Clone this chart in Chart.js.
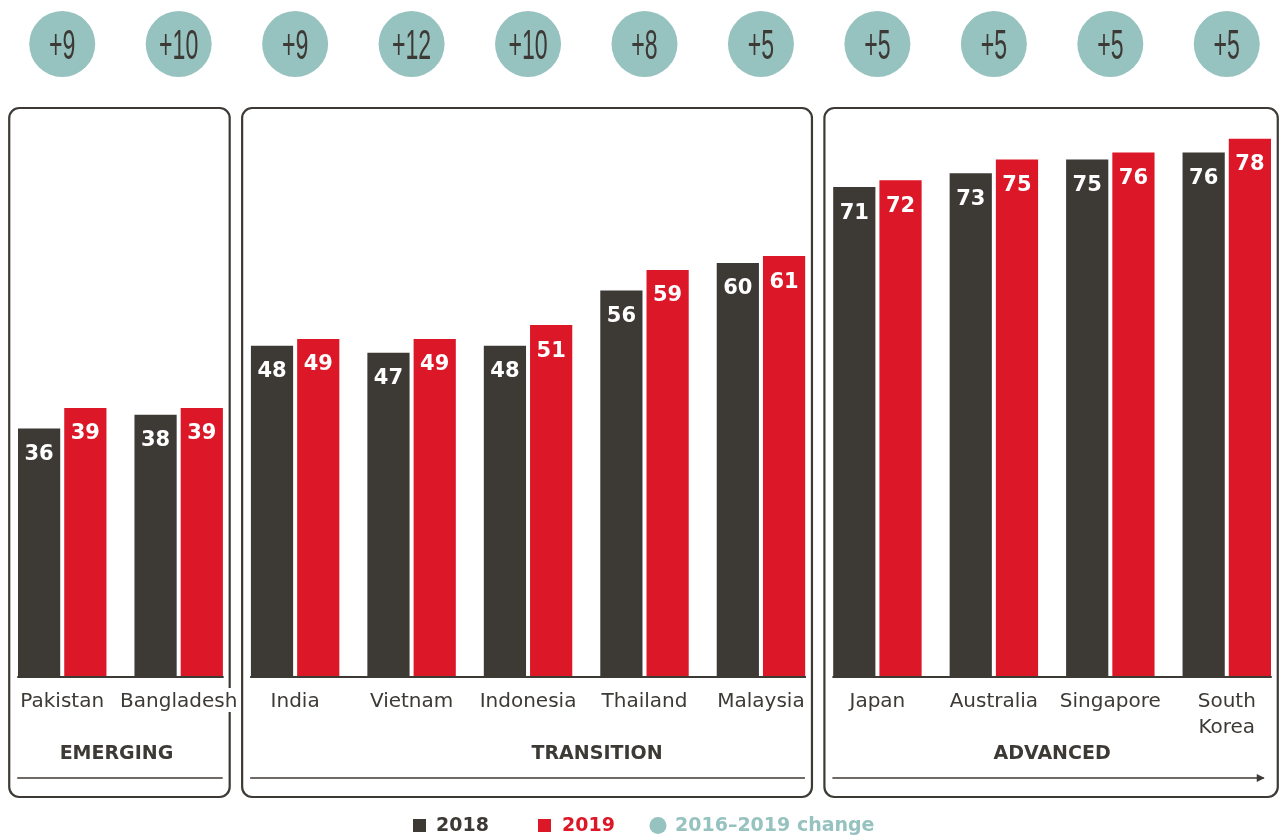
<!DOCTYPE html>
<html>
<head>
<meta charset="utf-8">
<script src="https://cdn.jsdelivr.net/npm/chart.js@4"></script>
<style>
html,body{margin:0;padding:0;background:#fff;overflow:hidden}
#wrap{width:1285px;height:836px;position:relative}
</style>
</head>
<body>
<div id="wrap"><canvas id="myChart"></canvas></div>
<script>
// data
const countries = ['Pakistan','Bangladesh','India','Vietnam','Indonesia','Thailand','Malaysia','Japan','Australia','Singapore',['South','Korea']];
const scores2018 = [36,38,48,47,48,56,60,71,73,75,76];
const scores2019 = [39,39,49,49,51,59,61,72,75,76,78];
const change = [9,10,9,12,10,8,5,5,5,5,5];
const groupNames = ['EMERGING','TRANSITION','ADVANCED'];
const groupFirst = [0,2,7];
const groupLast = [1,6,10];
const groupNameShift = [-3,70,1];
const legendText = ['2018','2019','2016\u20132019 change'];

const dark = '#3d3935', red = '#dc1727', teal = '#96c2bf';
const boldFont = 'bold 19px "DejaVu Sans"';
const tickFont = '20px "DejaVu Sans"';

function boxEdges(x, g) {
  return [x.getPixelForValue(groupFirst[g]) - 53, x.getPixelForValue(groupLast[g]) + 51];
}

// boxes behind everything, white gaps behind the country names
const boxes = {
  id: 'boxes',
  beforeDraw(chart) {
    const ctx = chart.ctx, x = chart.scales.x;
    ctx.save();
    ctx.strokeStyle = dark;
    ctx.lineWidth = 2.2;
    for (let g = 0; g < groupNames.length; g++) {
      let [l, r] = boxEdges(x, g);
      ctx.beginPath();
      ctx.roundRect(l, 108, r - l, 689, 10);
      ctx.stroke();
    }
    ctx.font = tickFont;
    ctx.fillStyle = '#fff';
    countries.forEach((c, i) => {
      let first = Array.isArray(c) ? c[0] : c;
      let w = ctx.measureText(first).width;
      ctx.fillRect(x.getPixelForValue(i) - w / 2 - 3, 688, w + 6, 24);
    });
    ctx.restore();
  }
};

const extras = {
  id: 'extras',
  afterDatasetsDraw(chart) {
    const ctx = chart.ctx;
    ctx.save();
    ctx.fillStyle = '#fff';
    ctx.font = 'bold 21px "DejaVu Sans"';
    ctx.textAlign = 'center';
    ctx.textBaseline = 'middle';
    chart.data.datasets.forEach((ds, i) => {
      chart.getDatasetMeta(i).data.forEach((bar, j) => {
        ctx.fillText(ds.data[j], bar.x, bar.y + 26);
      });
    });
    ctx.restore();
  },
  afterDraw(chart) {
    const ctx = chart.ctx, x = chart.scales.x;
    ctx.save();
    // change circles
    change.forEach((c, i) => {
      let cx = x.getPixelForValue(i);
      ctx.fillStyle = teal;
      ctx.beginPath();
      ctx.arc(cx, 44, 33, 0, Math.PI * 2);
      ctx.fill();
      ctx.save();
      ctx.translate(cx, 47);
      ctx.scale(0.55, 1);
      ctx.fillStyle = dark;
      ctx.font = '42px "Liberation Sans"';
      ctx.textAlign = 'center';
      ctx.textBaseline = 'middle';
      ctx.fillText('+' + c, 0, 0);
      ctx.restore();
    });
    // axis lines, group names, arrows
    ctx.strokeStyle = dark;
    ctx.fillStyle = dark;
    for (let g = 0; g < groupNames.length; g++) {
      let [l, r] = boxEdges(x, g);
      ctx.lineWidth = 2;
      ctx.beginPath();
      ctx.moveTo(l + 8, 677);
      ctx.lineTo(r - 6, 677);
      ctx.stroke();
      ctx.font = boldFont;
      ctx.textAlign = 'center';
      ctx.textBaseline = 'middle';
      ctx.fillText(groupNames[g], (l + r) / 2 + groupNameShift[g], 754);
      ctx.lineWidth = 1.5;
      ctx.beginPath();
      ctx.moveTo(l + 8, 778);
      if (g == groupNames.length - 1) {
        ctx.lineTo(r - 14, 778);
        ctx.stroke();
        ctx.beginPath();
        ctx.moveTo(r - 13, 778);
        ctx.lineTo(r - 21, 774);
        ctx.lineTo(r - 21, 782);
        ctx.closePath();
        ctx.fill();
      } else {
        ctx.lineTo(r - 7, 778);
        ctx.stroke();
      }
    }
    // legend
    ctx.font = boldFont;
    ctx.textAlign = 'left';
    ctx.textBaseline = 'middle';
    ctx.fillStyle = dark;
    ctx.fillRect(413, 819, 13, 13);
    ctx.fillText(legendText[0], 436, 826);
    ctx.fillStyle = red;
    ctx.fillRect(538, 819, 13, 13);
    ctx.fillText(legendText[1], 562, 826);
    ctx.fillStyle = teal;
    ctx.beginPath();
    ctx.arc(658, 825.5, 8.5, 0, Math.PI * 2);
    ctx.fill();
    ctx.fillText(legendText[2], 675, 826);
    ctx.restore();
  }
};

new Chart('myChart', {
  type: 'bar',
  data: {
    labels: countries,
    datasets: [
      { label: '2018', data: scores2018, backgroundColor: dark, barPercentage: 0.913, categoryPercentage: 0.794 },
      { label: '2019', data: scores2019, backgroundColor: red, barPercentage: 0.913, categoryPercentage: 0.794 }
    ]
  },
  options: {
    responsive: true,
    maintainAspectRatio: false,
    animation: false,
    layout: { padding: { top: 125, left: 4, right: 0, bottom: 0 } },
    plugins: { legend: { display: false }, tooltip: { enabled: false } },
    scales: {
      x: {
        grid: { display: false },
        border: { display: false },
        afterFit: (axis) => { axis.height = 159; },
        ticks: {
          autoSkip: false,
          maxRotation: 0,
          minRotation: 0,
          padding: 4,
          color: dark,
          font: { family: '"DejaVu Sans"', size: 20, lineHeight: 1.3 }
        }
      },
      y: { display: false, min: 0, max: 80 }
    }
  },
  plugins: [boxes, extras]
});
</script>
</body>
</html>
